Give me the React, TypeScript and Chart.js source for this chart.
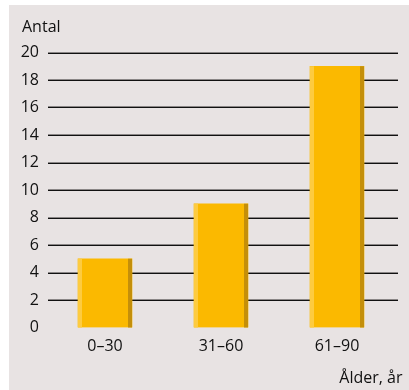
import React, { useEffect, useRef } from "react";
import { Chart, registerables } from "chart.js";

Chart.register(...registerables);

const categories = ["0–30", "31–60", "61–90"];
const counts = [5, 9, 19];
const yTicks = [0, 2, 4, 6, 8, 10, 12, 14, 16, 18, 20];
const yTitle = "Antal";
const xTitle = "Ålder, år";

const FONT = "'Open Sans', 'DejaVu Sans', sans-serif";
const BG = "#E8E3E3";
const BAR = "#FBB900";
const BAR_LIGHT = "#FDCB40";
const BAR_DARK = "#C48F0A";

const decorPlugin = {
  id: "decor",
  beforeDatasetsDraw(chart: any) {
    const { ctx, chartArea, scales } = chart;
    const y = scales.y;
    ctx.save();
    for (const v of yTicks) {
      if (v === 0) continue;
      const py = Math.round(y.getPixelForValue(v));
      ctx.fillStyle = "#8a8686";
      ctx.fillRect(chartArea.left + 1, py - 1, chartArea.right + 3 - (chartArea.left + 1), 1);
      ctx.fillStyle = "#111111";
      ctx.fillRect(chartArea.left + 1, py, chartArea.right + 3 - (chartArea.left + 1), 1);
    }
    ctx.restore();
  },
  afterDatasetsDraw(chart: any) {
    const { ctx } = chart;
    const meta = chart.getDatasetMeta(0);
    ctx.save();
    meta.data.forEach((el: any) => {
      const p = el.getProps(["x", "y", "base", "width"], true);
      const left = p.x - p.width / 2;
      const right = p.x + p.width / 2;
      const top = Math.min(p.y, p.base);
      const h = Math.abs(p.base - p.y);
      ctx.fillStyle = BAR_LIGHT;
      ctx.fillRect(left, top, 4, h);
      ctx.fillStyle = BAR_DARK;
      ctx.fillRect(right - 4, top, 4, h);
    });
    ctx.restore();
  },
  afterDraw(chart: any) {
    const { ctx } = chart;
    ctx.save();
    ctx.fillStyle = "#111111";
    ctx.font = `16px ${FONT}`;
    ctx.textBaseline = "alphabetic";
    ctx.textAlign = "left";
    ctx.fillText(yTitle, 13, 26.7);
    ctx.textAlign = "right";
    ctx.fillText(xTitle, 393.5, 377.5);
    ctx.restore();
  },
};

export default function App() {
  const ref = useRef<HTMLCanvasElement | null>(null);

  useEffect(() => {
    if (!ref.current) return;
    const chart = new Chart(ref.current, {
      type: "bar",
      data: {
        labels: categories,
        datasets: [
          {
            data: counts,
            backgroundColor: BAR,
            borderWidth: 0,
            barThickness: 54,
          },
        ],
      },
      options: {
        animation: false,
        responsive: false,
        devicePixelRatio: 1,
        layout: { padding: { top: 47.5, right: 14, left: 0, bottom: 0 } },
        plugins: {
          legend: { display: false },
          tooltip: { enabled: false },
          title: { display: false },
        },
        scales: {
          x: {
            offset: true,
            grid: { display: false, drawTicks: false },
            border: { display: false },
            ticks: {
              color: "#111111",
              font: { family: FONT, size: 16 },
              padding: 9,
              maxRotation: 0,
            },
            afterFit(scale: any) {
              scale.height = 62.5;
            },
          },
          y: {
            min: 0,
            max: 20,
            grid: { display: false, drawTicks: false },
            border: { display: false },
            afterBuildTicks(scale: any) {
              scale.ticks = yTicks.map((v) => ({ value: v }));
            },
            ticks: {
              color: "#111111",
              font: { family: FONT, size: 16 },
              padding: 8,
              stepSize: 2,
            },
            afterFit(scale: any) {
              scale.width = 38;
            },
          },
        },
      },
      plugins: [decorPlugin],
    });
    return () => chart.destroy();
  }, []);

  return (
    <div
      style={{
        position: "fixed",
        left: 0,
        top: 0,
        width: 409,
        height: 390,
        background: "#ffffff",
        overflow: "hidden",
      }}
    >
      <div
        style={{
          position: "absolute",
          left: 9,
          top: 5,
          width: 400,
          height: 385,
          background: BG,
        }}
      >
        <canvas ref={ref} width={400} height={385} style={{ display: "block", width: 400, height: 385 }} />
      </div>
    </div>
  );
}
